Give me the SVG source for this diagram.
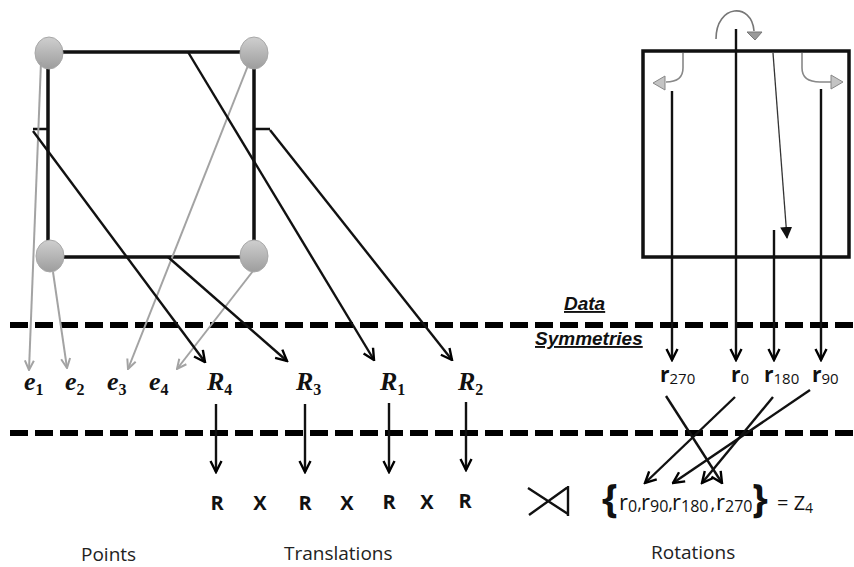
<svg xmlns="http://www.w3.org/2000/svg" width="854" height="567" viewBox="0 0 854 567">
  <defs>
    <linearGradient id="ball" x1="0" y1="0" x2="0" y2="1">
      <stop offset="0" stop-color="#cfcfcf"/>
      <stop offset="1" stop-color="#9d9d9d"/>
    </linearGradient>
    <marker id="ah" viewBox="0 0 14 14" refX="12.5" refY="7" markerWidth="14" markerHeight="14" markerUnits="userSpaceOnUse" orient="auto">
      <path d="M1.5,1.5 L12.5,7 L1.5,12.5" fill="none" stroke="#000" stroke-width="2.4" stroke-linejoin="miter"/>
    </marker>
    <marker id="ahg" viewBox="0 0 12 12" refX="11" refY="6" markerWidth="12" markerHeight="12" markerUnits="userSpaceOnUse" orient="auto">
      <path d="M1.5,1.5 L11,6 L1.5,10.5" fill="none" stroke="#a3a3a3" stroke-width="2"/>
    </marker>
    <marker id="tri" viewBox="0 0 12 12" refX="11" refY="6" markerWidth="12" markerHeight="12" markerUnits="userSpaceOnUse" orient="auto">
      <path d="M0,0 L12,6 L0,12 Z" fill="#111"/>
    </marker>
  </defs>
  <style>
    .frame { fill: none; stroke: #111; stroke-width: 3.5; }
    .blk { fill: none; stroke: #111; stroke-width: 2.4; }
    .arr { fill: none; stroke: #111; stroke-width: 2.4; marker-end: url(#ah); }
    .garr { fill: none; stroke: #a3a3a3; stroke-width: 2; marker-end: url(#ahg); }
    .dash { fill: none; stroke: #000; stroke-width: 6; stroke-dasharray: 18 7; }
    .ball { fill: url(#ball); stroke: #a8a8a8; stroke-width: 1; }
    .math { font-family: "Liberation Serif", "DejaVu Serif", serif; font-style: italic; font-weight: bold; font-size: 26px; fill: #111; }
    .msub { font-size: 16px; font-style: normal; }
    .lbl { font-family: "Open Sans", "Liberation Sans", sans-serif; font-size: 19px; fill: #222; }
    .rr { font-family: "Open Sans", "Liberation Sans", sans-serif; font-size: 21px; font-weight: bold; fill: #111; }
    .rsub { font-size: 15px; font-weight: normal; }
    .set { font-family: "Open Sans", "Liberation Sans", sans-serif; font-size: 22px; font-weight: normal; fill: #111; }
    .ssub { font-size: 16px; }
    .comma { font-size: 18px; }
    .brace { font-family: "Open Sans", "Liberation Sans", sans-serif; font-size: 40px; font-weight: bold; fill: #111; }
    .eq { font-family: "Open Sans", "Liberation Sans", sans-serif; font-size: 20px; fill: #111; }
    .eqsub { font-size: 14px; }
    .tx { font-family: "Open Sans", "Liberation Sans", sans-serif; font-size: 20px; font-weight: bold; fill: #111; }
    .hd { font-family: "Liberation Sans", "DejaVu Sans", sans-serif; font-size: 19px; font-weight: bold; font-style: italic; fill: #111; text-decoration: underline; }
  </style>

  <!-- layer separators -->
  <g id="separators">
    <line class="dash" x1="10" y1="325" x2="854" y2="325"/>
    <line class="dash" x1="10" y1="433" x2="854" y2="433"/>
  </g>

  <!-- square with its four corner points -->
  <g id="square">
    <rect class="frame" x="48" y="52" width="206" height="205"/>
    <path class="blk" d="M33,129 H48 M254,129 H270"/>
  </g>
  <g id="p1"><ellipse class="ball" cx="49" cy="53" rx="14" ry="16"/></g>
  <g id="p2"><ellipse class="ball" cx="254" cy="53" rx="14" ry="16"/></g>
  <g id="p3"><ellipse class="ball" cx="50" cy="256" rx="14" ry="16"/></g>
  <g id="p4"><ellipse class="ball" cx="254" cy="256" rx="14" ry="16"/></g>

  <!-- rotation square -->
  <g id="rotbox">
    <rect class="frame" x="643" y="51" width="206" height="206"/>
    <!-- turn arrow above -->
    <path d="M716,39 C716,4 752,2 754,31" fill="none" stroke="#777" stroke-width="1.6"/>
    <path d="M747,32 L762,32 L755,40 Z" fill="#9a9a9a" stroke="#777" stroke-width="1"/>
    <!-- quarter turn to the left -->
    <path d="M683,53 V68 Q683,82 666,82" fill="none" stroke="#888" stroke-width="1.6"/>
    <path d="M653,83 L665,76 L665,90 Z" fill="#c4c4c4" stroke="#888" stroke-width="1"/>
    <!-- quarter turn to the right -->
    <path d="M802,53 V68 Q802,82 820,82 H831" fill="none" stroke="#888" stroke-width="1.6"/>
    <path d="M843,82 L831,75 L831,89 Z" fill="#c4c4c4" stroke="#888" stroke-width="1"/>
    <!-- half turn -->
    <line x1="773" y1="53" x2="787" y2="238" stroke="#333" stroke-width="1.3" marker-end="url(#tri)"/>
  </g>

  <!-- connectors -->
  <g id="connectors">
    <!-- points to identities -->
    <line class="garr" x1="41" y1="62" x2="29" y2="370"/>
    <line class="garr" x1="53" y1="272" x2="67" y2="368"/>
    <line class="garr" x1="249" y1="63" x2="128" y2="369"/>
    <line class="garr" x1="253" y1="271" x2="177" y2="369"/>
    <!-- edges to reflections -->
    <line class="arr" x1="33" y1="131" x2="205" y2="362"/>
    <line class="arr" x1="168" y1="257" x2="287" y2="361"/>
    <line class="arr" x1="188" y1="52" x2="374" y2="360"/>
    <line class="arr" x1="270" y1="130" x2="452" y2="360"/>
    <!-- reflections to the R X R X R X R row -->
    <line class="arr" x1="216" y1="404" x2="216" y2="472"/>
    <line class="arr" x1="305" y1="404" x2="305" y2="472"/>
    <line class="arr" x1="389" y1="403" x2="389" y2="472"/>
    <line class="arr" x1="466" y1="402" x2="466" y2="470"/>
    <!-- rotations down to labels -->
    <line class="arr" x1="672" y1="91" x2="672" y2="360"/>
    <line class="arr" x1="736" y1="29" x2="736" y2="360"/>
    <line class="arr" x1="774" y1="230" x2="774" y2="360"/>
    <line class="arr" x1="821" y1="89" x2="821" y2="360"/>
    <!-- rotations into the group set -->
    <line class="arr" x1="666" y1="396" x2="722" y2="483"/>
    <line class="arr" x1="735" y1="397" x2="645" y2="483"/>
    <line class="arr" x1="773" y1="397" x2="702" y2="483"/>
    <line class="arr" x1="810" y1="390" x2="673" y2="483"/>
  </g>

  <!-- headings -->
  <g id="headings">
    <text class="hd" x="564" y="310">Data</text>
    <text class="hd" x="535" y="345">Symmetries</text>
  </g>

  <!-- symmetry labels -->
  <g id="e1"><text class="math" x="24" y="390">e<tspan class="msub" dy="5">1</tspan></text></g>
  <g id="e2"><text class="math" x="65" y="390">e<tspan class="msub" dy="5">2</tspan></text></g>
  <g id="e3"><text class="math" x="107" y="390">e<tspan class="msub" dy="5">3</tspan></text></g>
  <g id="e4"><text class="math" x="149" y="390">e<tspan class="msub" dy="5">4</tspan></text></g>
  <g id="R4"><text class="math" x="207" y="390">R<tspan class="msub" dy="5">4</tspan></text></g>
  <g id="R3"><text class="math" x="296" y="390">R<tspan class="msub" dy="5">3</tspan></text></g>
  <g id="R1"><text class="math" x="380" y="390">R<tspan class="msub" dy="5">1</tspan></text></g>
  <g id="R2"><text class="math" x="458" y="390">R<tspan class="msub" dy="5">2</tspan></text></g>

  <g id="r270"><text class="rr" x="660" y="382">r<tspan class="rsub" dy="2">270</tspan></text></g>
  <g id="r0"><text class="rr" x="731" y="382">r<tspan class="rsub" dy="2">0</tspan></text></g>
  <g id="r180"><text class="rr" x="764" y="382">r<tspan class="rsub" dy="2">180</tspan></text></g>
  <g id="r90"><text class="rr" x="812" y="382">r<tspan class="rsub" dy="2">90</tspan></text></g>

  <!-- translation word -->
  <g id="word">
    <text class="tx" x="217" y="510" text-anchor="middle">R</text>
    <text class="tx" x="260" y="510" text-anchor="middle">X</text>
    <text class="tx" x="305" y="510" text-anchor="middle">R</text>
    <text class="tx" x="347" y="510" text-anchor="middle">X</text>
    <text class="tx" x="389" y="509" text-anchor="middle">R</text>
    <text class="tx" x="427" y="509" text-anchor="middle">X</text>
    <text class="tx" x="465" y="508" text-anchor="middle">R</text>
  </g>

  <!-- semidirect product sign -->
  <g id="semidirect">
    <path d="M528,488 L568,514 M529,515 L568,487 M568,486 V516" fill="none" stroke="#111" stroke-width="2.4"/>
  </g>

  <!-- rotation group -->
  <g id="group">
    <text class="brace" x="602" y="512">{</text>
    <text class="set" x="619" y="510">r<tspan class="ssub" dy="2">0</tspan><tspan class="comma" dy="-2">,</tspan></text>
    <text class="set" x="641" y="510">r<tspan class="ssub" dy="2">90</tspan><tspan class="comma" dy="-2">,</tspan></text>
    <text class="set" x="672" y="510">r<tspan class="ssub" dy="2">180</tspan><tspan class="comma" dx="2" dy="-2">,</tspan></text>
    <text class="set" x="716" y="510">r<tspan class="ssub" dy="2">270</tspan></text>
    <text class="brace" x="752" y="512">}</text>
    <text class="eq" x="777" y="510">= Z<tspan class="eqsub" dy="3">4</tspan></text>
  </g>

  <!-- category captions -->
  <g id="captions">
    <text class="lbl" x="81" y="561">Points</text>
    <text class="lbl" x="284" y="560">Translations</text>
    <text class="lbl" x="651" y="559">Rotations</text>
  </g>
</svg>
